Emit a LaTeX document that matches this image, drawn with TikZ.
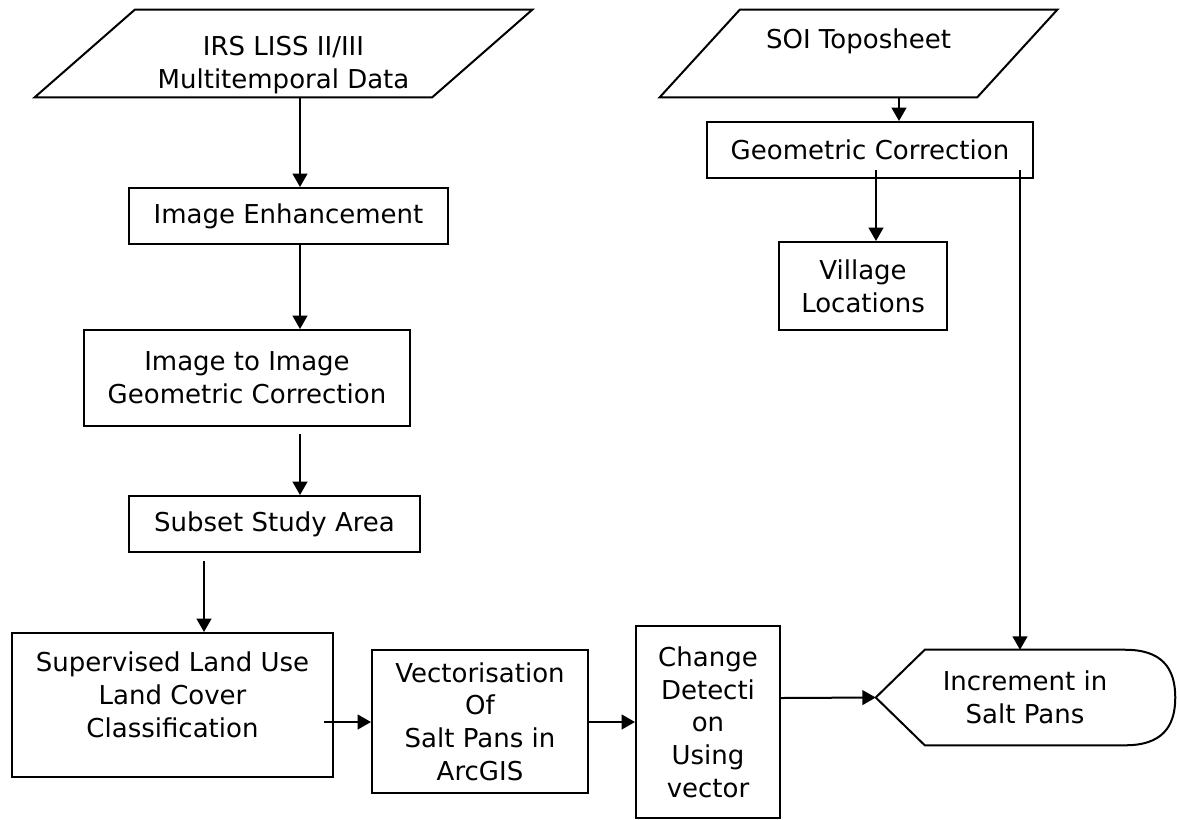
\documentclass[tikz,border=0pt]{standalone}
\usepackage{fontspec}
\setmainfont{DejaVu Sans}
\usetikzlibrary{arrows.meta,calc}

\newcommand{\unitpx}{0.75pt}

\tikzset{
  procbox/.style={draw, line width=1.5pt, align=center, inner sep=0pt,
    font=\fontsize{19.5}{24.5}\selectfont},
  plaintext/.style={align=center, inner sep=0pt,
    font=\fontsize{19.5}{24.5}\selectfont},
  outline/.style={line width=1.5pt},
  arr/.style={line width=1.5pt, -{Triangle[length=10pt,width=11pt]}},
}

\begin{document}
\begin{tikzpicture}[x=0.75pt,y=0.75pt,yscale=-1,xscale=1]
    \useasboundingbox (0,0) rectangle (1177,819);

    % columns and rows of the connectors
    \coordinate (colA) at (300,0);
    \coordinate (colB) at (204,0);
    \coordinate (colC) at (899,0);
    \coordinate (colD) at (876,0);
    \coordinate (colE) at (1020,0);
    \coordinate (rowA) at (0,722);
    \coordinate (rowB) at (0,698);

    %Shape: Parallelogram
    \node [plaintext, minimum width=397*\unitpx, minimum height=87*\unitpx] (irs) at (283.5,53.5) {\rule{0pt}{32pt}IRS LISS II/III\\Multitemporal Data};
    \draw [outline] ($(irs.north west)+(50,0)$) -- ($(irs.north east)+(50,0)$) -- ($(irs.south east)+(-50,0)$) -- ($(irs.south west)+(-50,0)$) -- cycle;
    %Shape: Parallelogram
    \node [plaintext, minimum width=317*\unitpx, minimum height=87*\unitpx] (soi) at (858.5,53.5) {SOI Toposheet\\[-2pt]\mbox{}};
    \draw [outline] ($(soi.north west)+(40,0)$) -- ($(soi.north east)+(40,0)$) -- ($(soi.south east)+(-40,0)$) -- ($(soi.south west)+(-40,0)$) -- cycle;

    %Shape: Rectangle
    \node [procbox, minimum width=319*\unitpx, minimum height=56*\unitpx] (enh) at (288.5,216) {Image Enhancement};
    \node [procbox, minimum width=326*\unitpx, minimum height=96*\unitpx] (i2i) at (247,378) {Image to Image\\Geometric Correction};
    \node [procbox, minimum width=291*\unitpx, minimum height=56*\unitpx] (sub) at (274.5,524) {Subset Study Area};
    \node [procbox, minimum width=321*\unitpx, minimum height=144*\unitpx] (sup) at (172.5,705) {Supervised Land Use\\Land Cover\\Classification\\[-9pt]\mbox{}};
    \node [procbox, minimum width=216*\unitpx, minimum height=143*\unitpx] (vec) at (480,721.5) {Vectorisation\\Of\\Salt Pans in\\ArcGIS};
    \node [procbox, minimum width=144*\unitpx, minimum height=192*\unitpx] (chg) at (708,722) {Change\\Detecti\\on\\Using\\vector};
    \node [procbox, minimum width=326*\unitpx, minimum height=56*\unitpx] (geo) at (870,150) {Geometric Correction};
    \node [procbox, minimum width=168*\unitpx, minimum height=88*\unitpx] (vil) at (863,286) {Village\\Locations};

    %Shape: Display
    \node [plaintext, minimum width=200*\unitpx, minimum height=95*\unitpx] (incr) at (1025,697.5) {Increment in\\Salt Pans};
    \coordinate (incrtip) at ($(incr.west)+(-49,0)$);
    \draw [outline] (incrtip) -- (incr.north west) -- (incr.north east) .. controls +(36,0) and +(0,-30) .. ($(incr.east)+(50,0)$) .. controls +(0,30) and +(36,0) .. (incr.south east) -- (incr.south west) -- cycle;

    %Straight Lines
    \draw [arr] (irs.south -| colA) -- (enh.north -| colA);
    \draw [arr] (enh.south -| colA) -- (i2i.north -| colA);
    \draw [arr] ($(i2i.south -| colA)+(0,7)$) -- (sub.north -| colA);
    \draw [arr] ($(sub.south -| colB)+(0,8)$) -- (sup.north -| colB);
    \draw [arr] ($(sup.east |- rowA)+(-10,0)$) -- (vec.west |- rowA);
    \draw [arr] (vec.east |- rowA) -- (chg.west |- rowA);
    \draw [arr] (chg.east |- rowB) -- (incrtip);
    \draw [arr] (soi.south -| colC) -- (geo.north -| colC);
    \draw [arr] ($(geo.south -| colD)+(0,-9)$) -- (vil.north -| colD);
    \draw [arr] ($(geo.south -| colE)+(0,-9)$) -- (incr.north -| colE);

\end{tikzpicture}
\end{document}
